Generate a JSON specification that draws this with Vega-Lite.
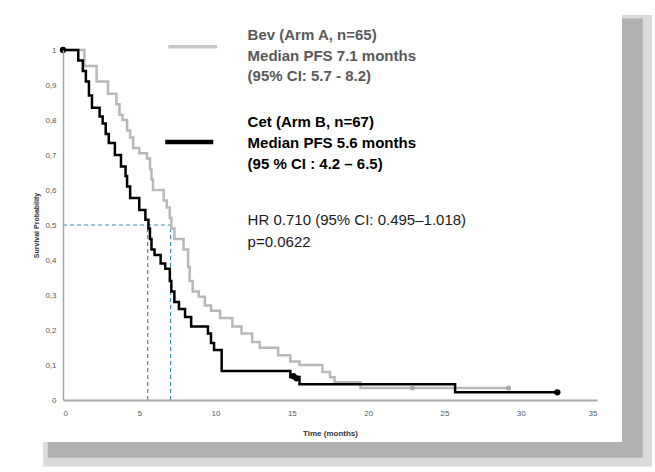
{
  "$schema": "https://vega.github.io/schema/vega-lite/v6.json",
  "autosize": {"type": "none"},
  "width": 534,
  "height": 350,
  "padding": {"left": 63, "top": 50, "right": 58, "bottom": 72},
  "background": "#ffffff",
  "config": {
    "view": {"stroke": null},
    "axis": {"grid": false, "ticks": false, "labelFont": "Liberation Sans", "labelColor": "#595959", "labelFontSize": 8, "titleFont": "Liberation Sans", "titleColor": "#333333", "domainColor": "#a6a6a6"}
  },
  "datasets": {
    "bev": [
      {"t": 0, "s": 1}, {"t": 1.4, "s": 0.954}, {"t": 2.2, "s": 0.91}, {"t": 2.95, "s": 0.875}, {"t": 3.5, "s": 0.845},
      {"t": 3.7, "s": 0.815}, {"t": 3.9, "s": 0.8}, {"t": 4.2, "s": 0.77}, {"t": 4.4, "s": 0.75}, {"t": 4.6, "s": 0.72},
      {"t": 5.0, "s": 0.705}, {"t": 5.5, "s": 0.69}, {"t": 5.7, "s": 0.66}, {"t": 5.8, "s": 0.63}, {"t": 5.9, "s": 0.6},
      {"t": 6.6, "s": 0.57}, {"t": 6.8, "s": 0.55}, {"t": 7.0, "s": 0.52}, {"t": 7.1, "s": 0.49}, {"t": 7.3, "s": 0.46},
      {"t": 7.9, "s": 0.43}, {"t": 8.2, "s": 0.38}, {"t": 8.3, "s": 0.34}, {"t": 8.5, "s": 0.31}, {"t": 8.9, "s": 0.295},
      {"t": 9.3, "s": 0.27}, {"t": 9.7, "s": 0.255}, {"t": 10.3, "s": 0.234}, {"t": 11.1, "s": 0.21}, {"t": 11.7, "s": 0.19},
      {"t": 12.4, "s": 0.166}, {"t": 12.9, "s": 0.149}, {"t": 14.1, "s": 0.128}, {"t": 14.9, "s": 0.11}, {"t": 15.5, "s": 0.1},
      {"t": 17.0, "s": 0.08}, {"t": 17.5, "s": 0.065}, {"t": 17.8, "s": 0.051}, {"t": 19.5, "s": 0.034}, {"t": 29.2, "s": 0.034}
    ],
    "cet": [
      {"t": 0, "s": 1}, {"t": 1.0, "s": 0.97}, {"t": 1.3, "s": 0.94}, {"t": 1.5, "s": 0.91}, {"t": 1.7, "s": 0.87},
      {"t": 1.9, "s": 0.835}, {"t": 2.4, "s": 0.81}, {"t": 2.6, "s": 0.79}, {"t": 2.8, "s": 0.76}, {"t": 3.0, "s": 0.734},
      {"t": 3.4, "s": 0.7}, {"t": 3.8, "s": 0.667}, {"t": 4.1, "s": 0.64}, {"t": 4.2, "s": 0.61}, {"t": 4.4, "s": 0.577},
      {"t": 5.0, "s": 0.543}, {"t": 5.4, "s": 0.515}, {"t": 5.6, "s": 0.49}, {"t": 5.7, "s": 0.46}, {"t": 5.8, "s": 0.43},
      {"t": 6.0, "s": 0.414}, {"t": 6.4, "s": 0.39}, {"t": 6.7, "s": 0.375}, {"t": 7.0, "s": 0.34}, {"t": 7.1, "s": 0.31},
      {"t": 7.3, "s": 0.28}, {"t": 7.6, "s": 0.26}, {"t": 8.0, "s": 0.237}, {"t": 8.4, "s": 0.21}, {"t": 9.5, "s": 0.19},
      {"t": 9.7, "s": 0.163}, {"t": 9.9, "s": 0.143}, {"t": 10.4, "s": 0.083}, {"t": 14.9, "s": 0.066}, {"t": 15.5, "s": 0.045},
      {"t": 25.7, "s": 0.022}, {"t": 32.4, "s": 0.022}
    ]
  },
  "encoding": {
    "x": {"field": "t", "type": "quantitative", "scale": {"domain": [0, 35], "nice": false},
      "axis": {"zindex": 2, "values": [0, 5, 10, 15, 20, 25, 30, 35], "title": "Time (months)", "titleFontSize": 8, "titleFontWeight": "bold", "labelPadding": 9, "titlePadding": 12, "domainWidth": 2}},
    "y": {"field": "s", "type": "quantitative", "scale": {"domain": [0, 1], "nice": false},
      "axis": {"zindex": 2, "values": [0, 0.1, 0.2, 0.3, 0.4, 0.5, 0.6, 0.7, 0.8, 0.9, 1], "format": ".1~f", "labelExpr": "replace(datum.label, '.', ',')", "title": "Survival Probability", "titleFontSize": 7, "titleFontWeight": "bold", "labelPadding": 7, "titlePadding": 5, "domainWidth": 1.5}}
  },
  "layer": [
    {
      "data": {"values": [{"t": -1.3, "t2": 38.6, "s": 1.1, "s2": -0.19}]},
      "mark": {"type": "rect", "fill": "#dadada", "clip": false, "zindex": 0},
      "encoding": {"x2": {"field": "t2"}, "y2": {"field": "s2"}}
    },
    {
      "data": {"values": [{"t": -1.0, "t2": 38.0, "s": 1.09, "s2": -0.165}]},
      "mark": {"type": "rect", "fill": "#b0b0b0", "clip": false, "zindex": 0},
      "encoding": {"x2": {"field": "t2"}, "y2": {"field": "s2"}}
    },
    {
      "data": {"values": [{"t": -1.64, "t2": 36.64, "s": 1.109, "s2": -0.12}]},
      "mark": {"type": "rect", "fill": "#ffffff", "clip": false, "zindex": 0},
      "encoding": {"x2": {"field": "t2"}, "y2": {"field": "s2"}}
    },
    {
      "data": {"values": [
        {"t": 0, "t2": 7.1, "s": 0.5, "s2": 0.5},
        {"t": 5.55, "t2": 5.55, "s": 0, "s2": 0.5},
        {"t": 7.05, "t2": 7.05, "s": 0, "s2": 0.5}
      ]},
      "mark": {"type": "rule", "color": "#3f8bb0", "strokeWidth": 1.2, "strokeDash": [4, 3], "zindex": 3},
      "encoding": {"x2": {"field": "t2"}, "y2": {"field": "s2"}}
    },
    {
      "data": {"name": "bev"},
      "mark": {"type": "line", "interpolate": "step-after", "color": "#b8b8b8", "strokeWidth": 2.5, "zindex": 3},
      "encoding": {}
    },
    {
      "data": {"name": "cet"},
      "mark": {"type": "line", "interpolate": "step-after", "color": "#000000", "strokeWidth": 2.5, "zindex": 3},
      "encoding": {}
    },
    {
      "data": {"values": [{"t": 22.9, "s": 0.034}, {"t": 29.2, "s": 0.034}]},
      "mark": {"type": "point", "filled": true, "color": "#a8a8a8", "size": 25, "opacity": 1, "zindex": 3},
      "encoding": {}
    },
    {
      "data": {"values": [{"t": 0, "s": 1}, {"t": 15.1, "s": 0.068}, {"t": 15.3, "s": 0.062}, {"t": 32.4, "s": 0.022}]},
      "mark": {"type": "point", "filled": true, "color": "#000000", "size": 40, "opacity": 1, "clip": false, "zindex": 3},
      "encoding": {}
    },
    {
      "data": {"values": [{"t": 6.9, "t2": 10.1, "s": 1.009, "s2": 1.009}]},
      "mark": {"type": "rule", "color": "#c8c8c8", "strokeWidth": 3.5, "zindex": 3},
      "encoding": {"x2": {"field": "t2"}, "y2": {"field": "s2"}}
    },
    {
      "data": {"values": [{"t": 6.7, "t2": 9.85, "s": 0.737, "s2": 0.737}]},
      "mark": {"type": "rule", "color": "#000000", "strokeWidth": 4.5, "zindex": 3},
      "encoding": {"x2": {"field": "t2"}, "y2": {"field": "s2"}}
    },
    {
      "data": {"values": [
        {"t": 12.1, "s": 1.043, "label": "Bev (Arm A, n=65)"},
        {"t": 12.1, "s": 0.984, "label": "Median PFS 7.1 months"},
        {"t": 12.1, "s": 0.926, "label": "(95% CI: 5.7 - 8.2)"}
      ]},
      "mark": {"type": "text", "align": "left", "baseline": "middle", "font": "Liberation Sans", "fontSize": 15, "fontWeight": "bold", "color": "#595959", "clip": false, "zindex": 3},
      "encoding": {"text": {"field": "label"}}
    },
    {
      "data": {"values": [
        {"t": 12.1, "s": 0.794, "label": "Cet (Arm B, n=67)"},
        {"t": 12.1, "s": 0.734, "label": "Median PFS 5.6 months"},
        {"t": 12.1, "s": 0.673, "label": "(95 % CI : 4.2 – 6.5)"}
      ]},
      "mark": {"type": "text", "align": "left", "baseline": "middle", "font": "Liberation Sans", "fontSize": 15, "fontWeight": "bold", "color": "#000000", "zindex": 3},
      "encoding": {"text": {"field": "label"}}
    },
    {
      "data": {"values": [
        {"t": 12.1, "s": 0.514, "label": "HR 0.710 (95% CI: 0.495–1.018)"},
        {"t": 12.1, "s": 0.451, "label": "p=0.0622"}
      ]},
      "mark": {"type": "text", "align": "left", "baseline": "middle", "font": "Liberation Sans", "fontSize": 15, "color": "#1a1a1a", "zindex": 3},
      "encoding": {"text": {"field": "label"}}
    }
  ]
}
